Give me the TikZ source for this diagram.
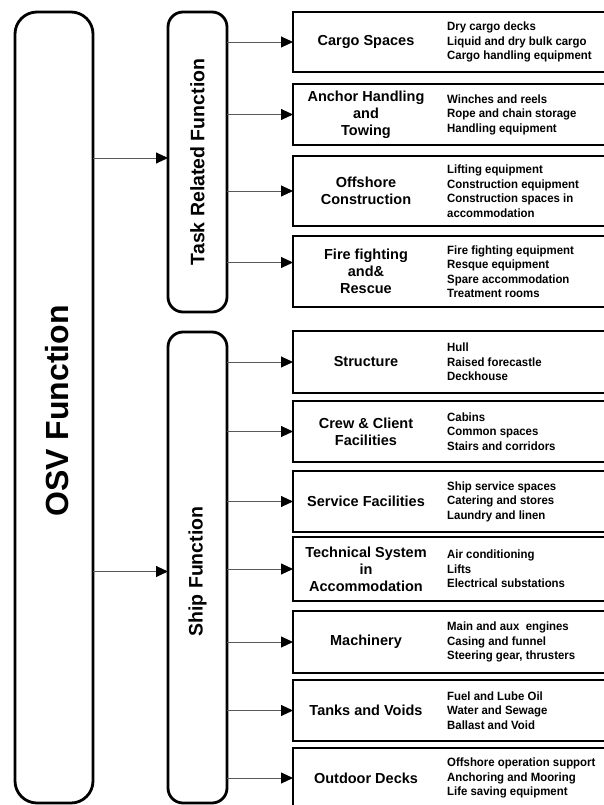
\documentclass[tikz,border=0pt]{standalone}
\usepackage{fontspec}
\setmainfont{Liberation Sans}
\newfontfamily\descfont{Liberation Sans}[FakeStretch=0.95]
\usetikzlibrary{arrows.meta,positioning,calc}
\tikzset{
  func/.style={draw, line width=2.8pt, rounded corners=15pt, inner sep=0pt, outer sep=0pt},
  area/.style={draw, line width=2.8pt, inner sep=0pt, outer sep=0pt, minimum width=313pt},
  vlbl/.style={rotate=90, font=\fontsize{19.5}{23}\selectfont\bfseries, inner sep=0pt},
  ttl/.style={font=\fontsize{14.5}{17}\selectfont\bfseries, align=center, inner sep=0pt},
  desc/.style={font=\descfont\bfseries\fontsize{12}{14.5}\selectfont, align=left, anchor=west, inner sep=0pt},
  flow/.style={-{Triangle[length=12pt, width=11pt, color=black]}, draw=gray!70!black, line width=0.9pt},
}

\begin{document}
\begin{tikzpicture}[x=1pt, y=-1pt]
  \useasboundingbox (0,0) rectangle (603,805);
  % main and function columns
  \node[func, rounded corners=22pt, minimum width=78pt, minimum height=791pt, anchor=north west] (osv) at (15,12) {};
  \node[rotate=90, font=\fontsize{32}{38}\selectfont\bfseries, inner sep=0pt] (osv-t) at (57,411) {OSV Function};
  \node[func, minimum width=59pt, minimum height=300pt, right=75pt of osv.north east, anchor=north west] (task) {};
  \node[vlbl] (task-t) at (task.center) {Task Related Function};
  \node[func, minimum width=59pt, minimum height=471pt, below=20pt of task.south west, anchor=north west] (ship) {};
  \node[vlbl] (ship-t) at ([yshift=-4pt]ship.center) {Ship Function};
  % task related areas
  \node[area, minimum height=60pt, right=66pt of task.north east, anchor=north west] (cargo) {};
  \node[area, minimum height=61pt, below=12pt of cargo.south west, anchor=north west] (anchor) {};
  \node[area, minimum height=70pt, below=11pt of anchor.south west, anchor=north west] (offshore) {};
  \node[area, minimum height=71pt, below=10pt of offshore.south west, anchor=north west] (fire) {};
  % ship areas
  \node[area, minimum height=62pt, below=24pt of fire.south west, anchor=north west] (structure) {};
  \node[area, minimum height=61pt, below=8pt of structure.south west, anchor=north west] (crew) {};
  \node[area, minimum height=61pt, below=9pt of crew.south west, anchor=north west] (service) {};
  \node[area, minimum height=64pt, below=5pt of service.south west, anchor=north west] (technical) {};
  \node[area, minimum height=62pt, below=10pt of technical.south west, anchor=north west] (machinery) {};
  \node[area, minimum height=61pt, below=7pt of machinery.south west, anchor=north west] (tanks) {};
  \node[area, minimum height=60pt, below=7pt of tanks.south west, anchor=north west] (outdoor) {};
  % titles
  \node[ttl] (cargo-t) at ([xshift=73pt]cargo.west) {Cargo Spaces};
  \node[ttl] (anchor-t) at ([xshift=73pt]anchor.west) {Anchor Handling\\and\\Towing};
  \node[ttl] (offshore-t) at ([xshift=73pt]offshore.west) {Offshore\\Construction};
  \node[ttl] (fire-t) at ([xshift=73pt]fire.west) {Fire fighting\\and\&\\Rescue};
  \node[ttl] (structure-t) at ([xshift=73pt]structure.west) {Structure};
  \node[ttl] (crew-t) at ([xshift=73pt]crew.west) {Crew \& Client\\Facilities};
  \node[ttl] (service-t) at ([xshift=73pt]service.west) {Service Facilities};
  \node[ttl] (technical-t) at ([xshift=73pt]technical.west) {Technical System\\in\\Accommodation};
  \node[ttl] (machinery-t) at ([xshift=73pt]machinery.west) {Machinery};
  \node[ttl] (tanks-t) at ([xshift=73pt]tanks.west) {Tanks and Voids};
  \node[ttl] (outdoor-t) at ([xshift=73pt]outdoor.west) {Outdoor Decks};
  % contents
  \node[desc] (cargo-d) at ([xshift=154pt]cargo.west) {Dry cargo decks\\Liquid and dry bulk cargo\\Cargo handling equipment};
  \node[desc] (anchor-d) at ([xshift=154pt]anchor.west) {Winches and reels\\Rope and chain storage\\Handling equipment};
  \node[desc] (offshore-d) at ([xshift=154pt]offshore.west) {Lifting equipment\\Construction equipment\\Construction spaces in\\accommodation};
  \node[desc] (fire-d) at ([xshift=154pt]fire.west) {Fire fighting equipment\\Resque equipment\\Spare accommodation\\Treatment rooms};
  \node[desc] (structure-d) at ([xshift=154pt]structure.west) {Hull\\Raised forecastle\\Deckhouse};
  \node[desc] (crew-d) at ([xshift=154pt]crew.west) {Cabins\\Common spaces\\Stairs and corridors};
  \node[desc] (service-d) at ([xshift=154pt]service.west) {Ship service spaces\\Catering and stores\\Laundry and linen};
  \node[desc] (technical-d) at ([xshift=154pt]technical.west) {Air conditioning\\Lifts\\Electrical substations};
  \node[desc] (machinery-d) at ([xshift=154pt]machinery.west) {Main and aux~ engines\\Casing and funnel\\Steering gear, thrusters};
  \node[desc] (tanks-d) at ([xshift=154pt]tanks.west) {Fuel and Lube Oil\\Water and Sewage\\Ballast and Void};
  \node[desc] (outdoor-d) at ([xshift=154pt]outdoor.west) {Offshore operation support\\Anchoring and Mooring\\Life saving equipment};
  % connectors
  \draw[flow] ([yshift=4pt]task.west -| osv.east) -- ([yshift=4pt]task.west);
  \draw[flow] ([yshift=-4pt]ship.west -| osv.east) -- ([yshift=-4pt]ship.west);
  \draw[flow] (cargo.west -| task.east) -- (cargo.west);
  \draw[flow] (anchor.west -| task.east) -- (anchor.west);
  \draw[flow] (offshore.west -| task.east) -- (offshore.west);
  \draw[flow] ([yshift=9pt]fire.west -| task.east) -- ([yshift=9pt]fire.west);
  \draw[flow] (structure.west -| ship.east) -- (structure.west);
  \draw[flow] (crew.west -| ship.east) -- (crew.west);
  \draw[flow] (service.west -| ship.east) -- (service.west);
  \draw[flow] (technical.west -| ship.east) -- (technical.west);
  \draw[flow] (machinery.west -| ship.east) -- (machinery.west);
  \draw[flow] (tanks.west -| ship.east) -- (tanks.west);
  \draw[flow] (outdoor.west -| ship.east) -- (outdoor.west);
\end{tikzpicture}
\end{document}
